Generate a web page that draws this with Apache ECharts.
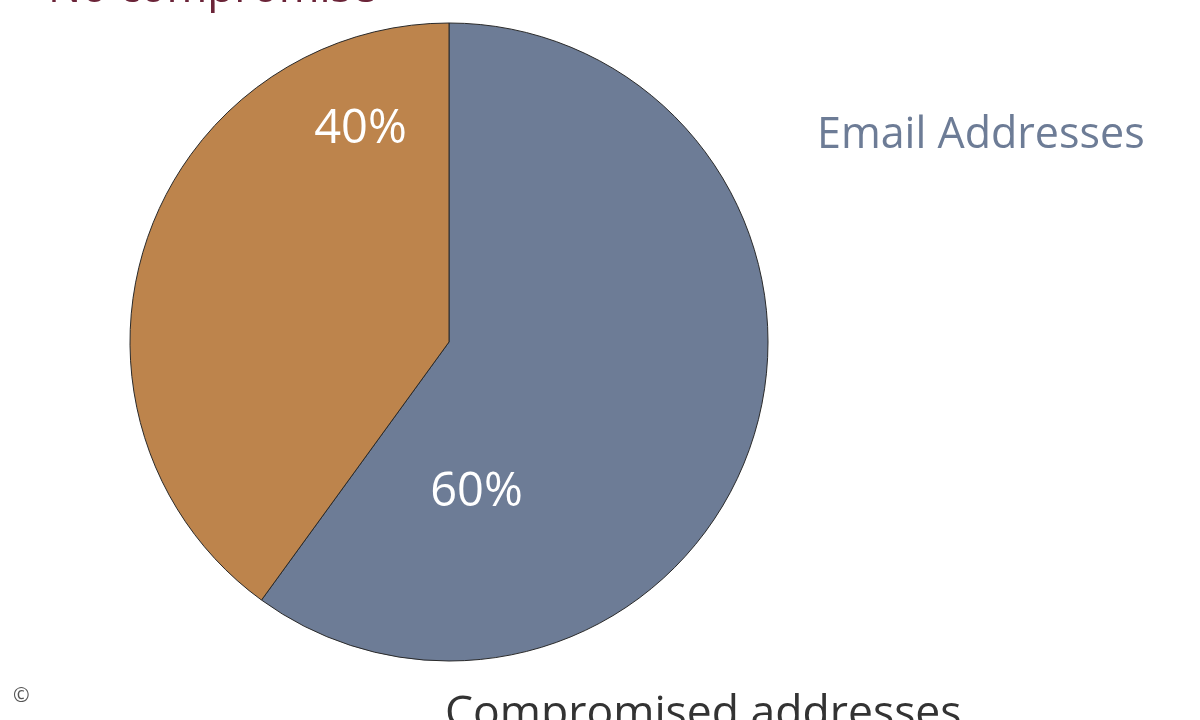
<!DOCTYPE html>
<html>
<head>
<meta charset="utf-8">
<script src="https://cdn.jsdelivr.net/npm/echarts@6/dist/echarts.min.js"></script>
<style>html,body{margin:0;padding:0;background:#fff}#c{width:1200px;height:720px}</style>
</head>
<body>
<div id="c"></div>
<script>
const categories = ['Email Addresses', 'Compromised addresses'];
const values = [60, 40];
const titleText = 'No compromise';
const sideLabel = 'Email Addresses';
const bottomLabel = 'Compromised addresses';

const colors = ['#6d7c96', '#bd844c'];
const labelOffsets = [[-127, 100], [66, -162]];
const FONT = '"Open Sans", "Noto Sans", sans-serif';

const chart = echarts.init(document.getElementById('c'), null, {renderer: 'canvas'});
chart.setOption({
  animation: false,
  backgroundColor: '#ffffff',
  series: [{
    type: 'pie',
    center: [449, 342],
    radius: [0, 319],
    startAngle: 90,
    clockwise: true,
    silent: true,
    itemStyle: {borderColor: '#2a2a2a', borderWidth: 1},
    label: {
      show: true,
      position: 'inside',
      color: '#ffffff',
      fontSize: 47,
      fontFamily: FONT,
      formatter: p => p.value + '%'
    },
    labelLine: {show: false},
    data: categories.map((n, i) => ({
      name: n,
      value: values[i],
      itemStyle: {color: colors[i]},
      label: {offset: labelOffsets[i]}
    }))
  }],
  graphic: [
    {type: 'text', left: 48, top: -33, style: {text: titleText, fill: '#6b2438', font: '400 44px ' + FONT}},
    {type: 'text', left: 817, top: 114, style: {text: sideLabel, fill: '#6d7c96', font: '400 43px ' + FONT}},
    {type: 'text', left: 445, top: 692, style: {text: bottomLabel, fill: '#333333', font: '400 44.5px ' + FONT}},
    {type: 'text', left: 13, top: 686, style: {text: '©', fill: '#555', font: '400 20px ' + FONT}}
  ]
});
</script>
</body>
</html>
